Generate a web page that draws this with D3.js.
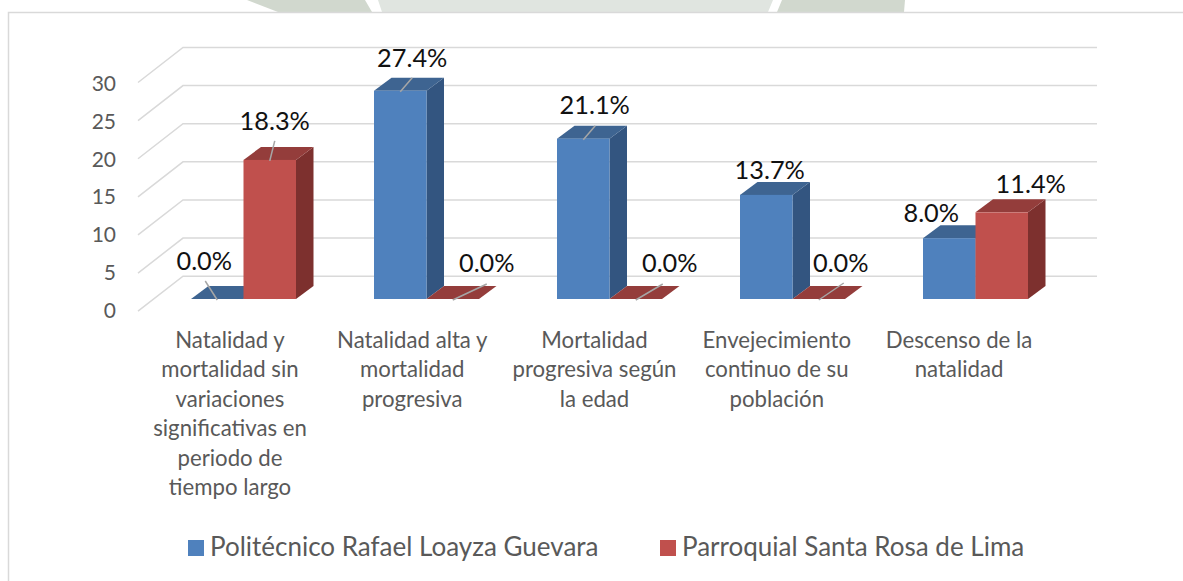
<!DOCTYPE html>
<html><head><meta charset="utf-8">
<script src="https://cdn.jsdelivr.net/npm/d3@7"></script>
<style>html,body{margin:0;padding:0;background:#fff}svg{display:block}text{font-family:Lato,"Open Sans",sans-serif}</style>
</head><body><div id="chart"></div>
<script>
const categories = [
  ["Natalidad y","mortalidad sin","variaciones","significativas en","periodo de","tiempo largo"],
  ["Natalidad alta y","mortalidad","progresiva"],
  ["Mortalidad","progresiva según","la edad"],
  ["Envejecimiento","continuo de su","población"],
  ["Descenso de la","natalidad"]
];
const seriesNames = ["Politécnico Rafael Loayza Guevara","Parroquial Santa Rosa de Lima"];
const politecnico = [0.0,27.4,21.1,13.7,8.0];
const parroquial = [18.3,0.0,0.0,0.0,11.4];
const yTicks = [0,5,10,15,20,25,30];
const frontColors = ["#4f81bd","#c0504d"];
const topColors = ["#3e6491","#943d3b"];
const sideColors = ["#335580","#7d302e"];
// label placement relative to the bar's top-centre: [dx, dy, leaderDx, leaderDy] (leader 0 = none)
const labelOffsets = [
  [[-13,-38,-12,-18],[12,-33,12,-13],[11.5,-33,12,-13],[3.5,-25,0,0],[-18,-25,0,0]],
  [[5,-39,5,-19],[34,-36,34,-15],[34,-36,27,-15],[22,-36,25,-16],[29,-28,0,0]]
];
const W=1183,H=581;
const svg=d3.select("#chart").append("svg").attr("width",W).attr("height",H);

// watermark remnant above the chart frame
const wm=svg.append("g");
wm.append("polygon").attr("points","247,0 278,12 372,12 365,0").attr("fill","#d1d8ce");
wm.append("polygon").attr("points","378,0 382,12 768,12 773,0").attr("fill","#e0e5e0");
wm.append("polygon").attr("points","777,12 904,12 905,0 782,0").attr("fill","#d1d8ce");
// frame
svg.append("path").attr("d",`M8.5,${H}V12.5H${W}`).attr("fill","none").attr("stroke","#d9d9d9").attr("stroke-width",1.5);

const depthX=17.5, depthY=13;
const floorDY=35;
const x0=d3.scaleBand().domain(d3.range(categories.length)).range([152,1067]);
const x1=d3.scaleBand().domain([0,1]).range([0,105]);
const groupOffset=(x0.bandwidth()-105)/2;
const y=d3.scaleLinear().domain([0,30]).range([299,71]);       // front plane of bars
const yBack=d3.scaleLinear().domain([0,30]).range([276.2,47.5]);  // back wall

// gridlines
const grid=svg.append("g").attr("fill","none").attr("stroke","#d9d9d9").attr("stroke-width",1.5);
yTicks.forEach(t=>{
  grid.append("path").attr("d",`M138,${yBack(t)+floorDY}L183,${yBack(t)}H1097`);
});

// y axis labels
const yAxisScale=d3.scaleLinear().domain([0,30]).range([310,83]);
const axis=svg.append("g").attr("transform","translate(116,0)")
  .call(d3.axisLeft(yAxisScale).tickValues(yTicks).tickSize(0).tickPadding(0));
axis.select(".domain").remove();
axis.selectAll("text").attr("fill","#595959").style("font-size","21px").style("font-family","Lato").attr("dy","0.35em");

// bars
const all=[politecnico,parroquial];
const barsG=svg.append("g");
categories.forEach((c,i)=>{
  all.forEach((vals,s)=>{
    const v=vals[i];
    const xa=x0(i)+groupOffset+x1(s), w=x1.bandwidth(), yt=y(v), yb=y(0);
    const g=barsG.append("g");
    g.append("polygon").attr("fill",sideColors[s])
      .attr("points",[[xa+w,yt],[xa+w+depthX,yt-depthY],[xa+w+depthX,yb-depthY],[xa+w,yb]].join(" "));
    g.append("polygon").attr("fill",topColors[s])
      .attr("points",[[xa,yt],[xa+depthX,yt-depthY],[xa+w+depthX,yt-depthY],[xa+w,yt]].join(" "));
    g.append("rect").attr("x",xa).attr("y",yt).attr("width",w).attr("height",yb-yt).attr("fill",frontColors[s]);
  });
});

// labels and leaders
const labels=svg.append("g");
categories.forEach((c,i)=>{
  all.forEach((vals,s)=>{
    const v=vals[i], o=labelOffsets[s][i];
    const cx=x0(i)+groupOffset+x1(s)+x1.bandwidth()/2, cy=y(v);
    if(o[2]||o[3]) labels.append("line").attr("x1",cx).attr("y1",cy+1).attr("x2",cx+o[2]).attr("y2",cy+o[3])
      .attr("stroke","#a6a6a6").attr("stroke-width",1.5);
    labels.append("text").attr("x",cx+o[0]).attr("y",cy+o[1]).attr("text-anchor","middle").attr("dy","0.35em")
      .attr("fill","#111").style("font-size","25.3px").text(d3.format(".1f")(v)+"%");
  });
});

// category labels
const lineH=29.4;
const xLabel=d3.scalePoint().domain(d3.range(categories.length)).range([230,959]);
categories.forEach((lines,i)=>{
  const t=svg.append("text").attr("text-anchor","middle").attr("fill","#595959").style("font-size","22.2px");
  lines.forEach((l,k)=>{
    t.append("tspan").attr("x",xLabel(i)).attr("y",348+k*lineH).text(l);
  });
});

// legend
const legX=[188,660], legTextX=[210,682];
seriesNames.forEach((n,s)=>{
  svg.append("rect").attr("x",legX[s]).attr("y",540).attr("width",16).attr("height",16).attr("fill",frontColors[s]);
  svg.append("text").attr("x",legTextX[s]).attr("y",556).attr("fill","#595959").style("font-size","26px").text(n);
});
</script></body></html>
